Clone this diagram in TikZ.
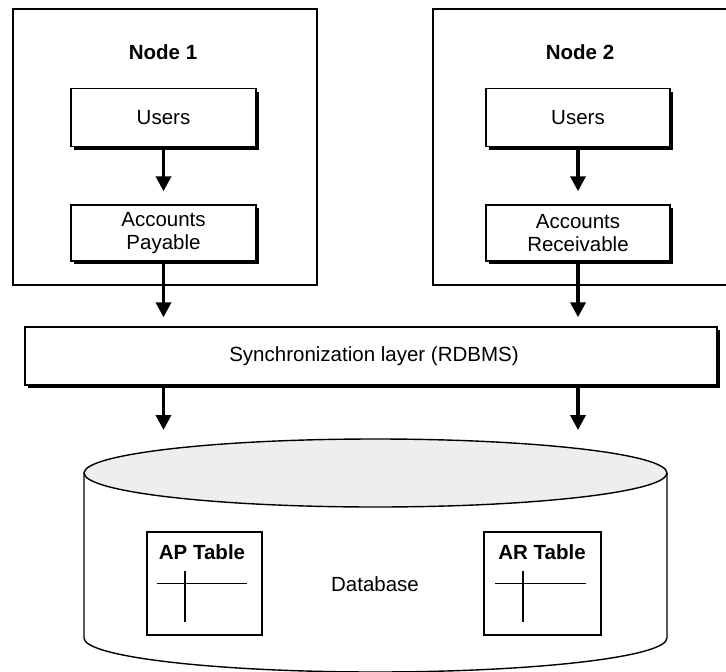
\documentclass[tikz,border=0pt]{standalone}
\usepackage{fontspec}
\setmainfont{Liberation Sans}
\usetikzlibrary{arrows.meta,shadows,calc}
\definecolor{disktop}{RGB}{238,238,238}
\tikzset{
  every node/.style={font=\fontsize{20.5}{22.5}\selectfont},
  nodebox/.style={draw, line width=2pt, inner sep=0pt},
  procbox/.style={draw, line width=1.4pt, fill=white, inner sep=0pt, align=center,
    drop shadow={shadow xshift=3pt, shadow yshift=-3pt, fill=black, opacity=1}},
  tablebox/.style={draw, line width=1.5pt, inner sep=0pt, fill=white},
  title/.style={font=\fontsize{20.5}{22.5}\selectfont\bfseries},
  flow/.style={line width=3.5pt, -{Triangle[width=15pt,length=15pt]}},
  grid/.style={line width=1.3pt}
}
\begin{document}
\begin{tikzpicture}[x=1pt,y=-1pt]
\useasboundingbox (0,0) rectangle (726,672);
\clip (0,0) rectangle (726,672);

% the two application nodes
\node[nodebox, minimum width=304pt, minimum height=276pt] (n1box) at (165,147) {};
\node[nodebox, minimum width=304pt, minimum height=276pt] (n2box) at (585,147) {};
\node[title] (n1title) at (163,52) {Node 1};
\node[title] (n2title) at (580,52) {Node 2};

\node[procbox, minimum width=185pt, minimum height=58pt] (users1) at (163.5,117.5) {Users};
\node[procbox, minimum width=185pt, minimum height=56pt] (ap1) at (163.5,233) {Accounts\\Payable};
\node[procbox, minimum width=184pt, minimum height=58pt] (users2) at (578,117.5) {Users};
\node[procbox, minimum width=184pt, minimum height=56pt] (ar2) at (578,233) {Accounts\\Receivable};

% synchronization layer
\node[procbox, minimum width=692pt, minimum height=58pt] (sync) at (371,356) {};
\node (synctext) at (374,356) {Synchronization layer (RDBMS)};

% database cylinder
\coordinate (dbtop) at (375.5,439);
\draw[line width=1.4pt, fill=white] (84,473) -- (84,638)
  arc[start angle=180, end angle=360, x radius=291.5pt, y radius=34pt] -- (667,473);
\draw[line width=1.4pt, fill=disktop] (375.5,473) ellipse [x radius=291.5pt, y radius=34pt];
\node (dbtext) at (375,584) {Database};

% tables inside the database
\node[tablebox, minimum width=115pt, minimum height=103pt] (aptab) at (204.5,583.5) {};
\node[tablebox, minimum width=117pt, minimum height=103pt] (artab) at (542.5,583.5) {};
\node[title] (aptitle) at (202,552) {AP Table};
\node[title] (artitle) at (542,552) {AR Table};
\draw[grid] ($(aptab.center)+(-47.5,0)$) -- ($(aptab.center)+(42.5,0)$);
\draw[grid] ($(aptab.center)+(-19.5,-12.5)$) -- ($(aptab.center)+(-19.5,38.5)$);
\draw[grid] ($(artab.center)+(-47.5,0)$) -- ($(artab.center)+(43.5,0)$);
\draw[grid] ($(artab.center)+(-19.5,-12.5)$) -- ($(artab.center)+(-19.5,38.5)$);

% connectors
\draw[flow, shorten >=13pt] (users1) -- (ap1);
\draw[flow, shorten >=13pt] (users2) -- (ar2);
\draw[flow, shorten >=9pt] (ap1.south) -- (ap1.south |- sync.north);
\draw[flow, shorten >=9pt] (ar2.south) -- (ar2.south |- sync.north);
\draw[flow, shorten >=9pt] (sync.south -| ap1.south) -- (dbtop -| ap1.south);
\draw[flow, shorten >=9pt] (sync.south -| ar2.south) -- (dbtop -| ar2.south);
\end{tikzpicture}
\end{document}
